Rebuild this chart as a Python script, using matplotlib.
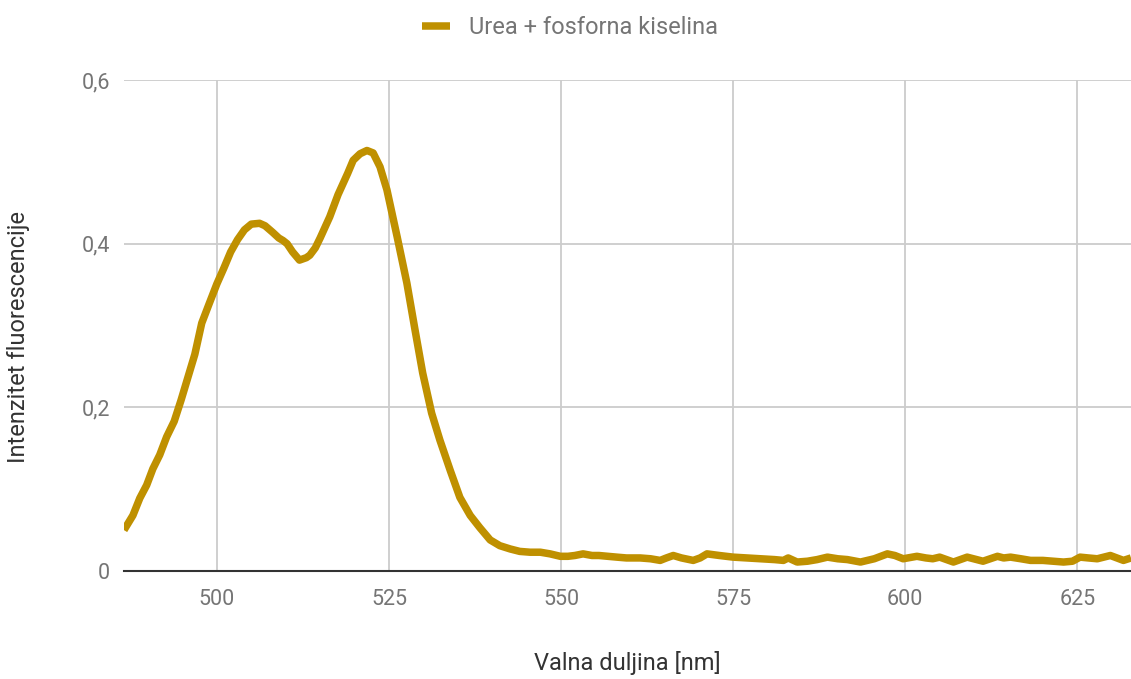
#!/usr/bin/env python3
# -*- coding: utf-8 -*-
"""
Fluorescence spectrum: urea + phosphoric acid.
"""
import matplotlib
matplotlib.use('Agg')
import matplotlib.pyplot as plt
from matplotlib.ticker import FuncFormatter
#------------------------------------------------------------------------------#
# Data.
#------------------------------------------------------------------------------#
series_label = 'Urea + fosforna kiselina'
x_label = 'Valna duljina [nm]'
y_label = 'Intenzitet fluorescencije'

wavelength = [486.5, 487.8, 488.8, 489.8, 490.7, 491.7, 492.7, 493.8, 494.8,
              495.8, 496.8, 497.8, 498.8, 500.0, 501.0, 502.0, 503.0, 504.0,
              505.0, 506.2, 507.0, 508.1, 509.0, 509.6, 510.2, 511.0, 512.0,
              513.0, 513.5, 514.3, 515.0, 516.4, 517.6, 519.0, 519.8, 520.8,
              521.8, 522.7, 523.7, 524.7, 526.2, 527.6, 528.8, 529.9, 531.2,
              532.4, 533.9, 535.3, 536.8, 538.2, 539.7, 541.1, 542.6, 544.0,
              545.5, 547.0, 548.4, 549.9, 551.0, 552.0, 553.2, 554.5, 555.5,
              556.8, 558.1, 559.5, 561.5, 563.0, 564.4, 565.3, 566.3, 567.5,
              569.2, 570.2, 571.2, 573.0, 575.0, 577.0, 579.0, 581.0, 582.3,
              583.0, 584.3, 585.8, 587.2, 588.7, 590.2, 591.6, 593.5, 595.5,
              597.4, 598.5, 599.7, 601.7, 603.0, 604.0, 605.0, 607.0, 609.0,
              611.3, 613.4, 614.3, 615.3, 616.8, 618.2, 620.0, 621.5, 623.0,
              624.3, 625.4, 626.6, 627.9, 629.8, 631.7, 632.8]
intensity = [0.050, 0.068, 0.089, 0.105, 0.125, 0.142, 0.164, 0.183, 0.209,
             0.237, 0.265, 0.303, 0.325, 0.351, 0.370, 0.390, 0.405, 0.417,
             0.424, 0.425, 0.422, 0.414, 0.407, 0.404, 0.400, 0.390, 0.380,
             0.383, 0.386, 0.395, 0.407, 0.433, 0.460, 0.486, 0.502, 0.510,
             0.514, 0.511, 0.494, 0.466, 0.408, 0.352, 0.294, 0.242, 0.193,
             0.160, 0.123, 0.090, 0.068, 0.053, 0.038, 0.031, 0.027, 0.024,
             0.023, 0.023, 0.021, 0.018, 0.018, 0.019, 0.021, 0.019, 0.019,
             0.018, 0.017, 0.016, 0.016, 0.015, 0.013, 0.016, 0.019, 0.016,
             0.013, 0.016, 0.021, 0.019, 0.017, 0.016, 0.015, 0.014, 0.013,
             0.016, 0.011, 0.012, 0.014, 0.017, 0.015, 0.014, 0.011, 0.015,
             0.021, 0.019, 0.015, 0.018, 0.016, 0.015, 0.017, 0.011, 0.017,
             0.012, 0.018, 0.016, 0.017, 0.015, 0.013, 0.013, 0.012, 0.011,
             0.012, 0.017, 0.016, 0.015, 0.019, 0.013, 0.016]

x_ticks = [500, 525, 550, 575, 600, 625]
y_ticks = [0, 0.2, 0.4, 0.6]
#------------------------------------------------------------------------------#
#------------------------------------------------------------------------------#
def plot_results():
    plt.rcParams['font.family'] = ['Roboto', 'DejaVu Sans']
    text_grey = '#757575'
    label_grey = '#333333'

    fig = plt.figure(figsize=(11.31, 6.79), dpi=100)
    ax = fig.add_axes([0.1096, 0.159, 0.8904, 0.723])

    ax.plot(wavelength, intensity, color='#bf9000', linewidth=5.4,
            solid_joinstyle='round', solid_capstyle='butt',
            label=series_label, zorder=10, clip_on=True)

    ax.set_xlim(486.5, 632.8)
    ax.set_ylim(0, 0.6)
    ax.set_xticks(x_ticks)
    ax.set_yticks(y_ticks)
    ax.yaxis.set_major_formatter(FuncFormatter(
        lambda v, p: '0' if v == 0 else f'{v:.1f}'.replace('.', ',')))

    ax.grid(True, color='#cccccc', linewidth=1.3)
    ax.set_axisbelow(True)
    for side in ['top', 'right', 'left']:
        ax.spines[side].set_visible(False)
    ax.spines['bottom'].set_color('#333333')
    ax.spines['bottom'].set_linewidth(1.5)
    ax.spines['bottom'].set_zorder(11)
    ax.tick_params(length=0, labelsize=15.5, labelcolor=text_grey)
    ax.tick_params(axis='x', pad=13)
    ax.tick_params(axis='y', pad=10)

    ax.set_xlabel(x_label, fontsize=17, color=label_grey)
    ax.set_ylabel(y_label, fontsize=17, color=label_grey)
    ax.xaxis.set_label_coords(0.5, -0.162)
    ax.yaxis.set_label_coords(-0.093, 0.477)

    fig.legend(loc='upper center', bbox_to_anchor=(0.504, 1.008), frameon=False,
               fontsize=17, handlelength=1.2, handleheight=0.5,
               handletextpad=0.8, labelcolor=text_grey)

    fig.savefig('out.png', dpi=100)
#------------------------------------------------------------------------------#
#------------------------------------------------------------------------------#
if __name__ == '__main__':
    plot_results()
